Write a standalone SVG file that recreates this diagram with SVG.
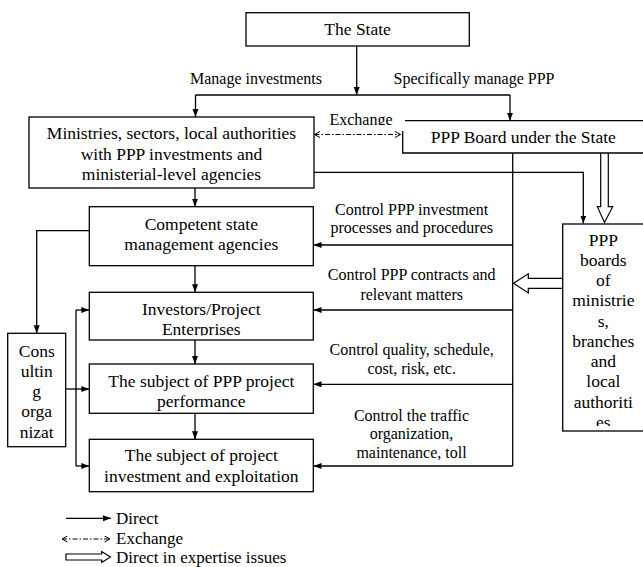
<svg xmlns="http://www.w3.org/2000/svg" width="643" height="567" viewBox="0 0 643 567" font-family="'Liberation Serif', 'DejaVu Serif', serif">
<style>
.box{fill:#fff;stroke:#000;stroke-width:1.3}
.ln{fill:none;stroke:#000;stroke-width:1.3}
.hol{fill:#fff;stroke:#000;stroke-width:1.2}
.ex{fill:none;stroke:#000;stroke-width:1.1;stroke-dasharray:5 2 1.5 2}
text{font-family:'Liberation Serif','DejaVu Serif',serif;fill:#000}
.bt{font-size:17.5px;text-anchor:middle}
.lb{font-size:16px;text-anchor:middle}
.lg{font-size:17px}
</style>
<defs>
<marker id="ah" markerUnits="userSpaceOnUse" markerWidth="9" markerHeight="7" refX="8" refY="3" orient="auto"><path d="M0,0 L8,3 L0,6 z" fill="#000"/></marker>
<marker id="ch" markerUnits="userSpaceOnUse" markerWidth="8" markerHeight="8" refX="6" refY="3.5" orient="auto"><path d="M0.5,0.5 L6,3.5 L0.5,6.5" fill="none" stroke="#000" stroke-width="1"/></marker>
<marker id="chs" markerUnits="userSpaceOnUse" markerWidth="8" markerHeight="8" refX="0.5" refY="3.5" orient="auto"><path d="M6,0.5 L0.5,3.5 L6,6.5" fill="none" stroke="#000" stroke-width="1"/></marker>
<clipPath id="cInv"><rect x="89" y="292" width="225" height="43.5"/></clipPath>
<clipPath id="cBoards"><rect x="562" y="224" width="90" height="202"/></clipPath>
<clipPath id="cEx"><rect x="320" y="100" width="80" height="25"/></clipPath>
</defs>

<g id="connectors">
<polyline class="ln" points="356.7,46 356.7,95" marker-end="url(#ah)"/>
<polyline class="ln" points="195.5,95 510,95"/>
<polyline class="ln" points="195.5,95 195.5,117" marker-end="url(#ah)"/>
<polyline class="ln" points="510,95 510,120.7" marker-end="url(#ah)"/>
<line class="ex" x1="314.5" y1="134.5" x2="400.5" y2="134.5" marker-start="url(#chs)" marker-end="url(#ch)"/>
<polyline class="ln" points="314,172.3 583.3,172.3 583.3,223.5" marker-end="url(#ah)"/>
<path class="hol" d="M600.7,153 V206.7 H597.3 L604.5,222.5 L612.7,206.7 H608.3 V153"/>
<polyline class="ln" points="512.7,153 512.7,466"/>
<polyline class="ln" points="512.7,245 313.5,245" marker-end="url(#ah)"/>
<polyline class="ln" points="512.7,310 313.5,310" marker-end="url(#ah)"/>
<polyline class="ln" points="512.7,384.3 313.5,384.3" marker-end="url(#ah)"/>
<polyline class="ln" points="512.7,466 313.5,466" marker-end="url(#ah)"/>
<path class="hol" d="M562.7,278.3 H528.3 V273.8 L513.5,283.3 L528.3,293 V288.3 H562.7"/>
<polyline class="ln" points="195,188 195,206.7" marker-end="url(#ah)"/>
<polyline class="ln" points="195,265.7 195,292.3" marker-end="url(#ah)"/>
<polyline class="ln" points="195,340 195,364" marker-end="url(#ah)"/>
<polyline class="ln" points="195,413.3 195,439.3" marker-end="url(#ah)"/>
<polyline class="ln" points="89.3,230.7 36.7,230.7 36.7,333.3" marker-end="url(#ah)"/>
<polyline class="ln" points="65.7,389 89.3,389" marker-end="url(#ah)"/>
<polyline class="ln" points="76,310 76,466"/>
<polyline class="ln" points="76,310 89.3,310" marker-end="url(#ah)"/>
<polyline class="ln" points="76,466 89.3,466" marker-end="url(#ah)"/>
</g>

<g id="labels">
<text class="lb" x="256" y="84">Manage investments</text>
<text class="lb" x="474" y="84">Specifically manage PPP</text>
<text class="lb" x="361" y="124.5" clip-path="url(#cEx)">Exchange</text>
<text class="lb" x="411.7" y="214.8">Control PPP investment</text>
<text class="lb" x="411.7" y="232.8">processes and procedures</text>
<text class="lb" x="411.7" y="279.5">Control PPP contracts and</text>
<text class="lb" x="411.7" y="299.5">relevant matters</text>
<text class="lb" x="411.7" y="354.8">Control quality, schedule,</text>
<text class="lb" x="411.7" y="373.8">cost, risk, etc.</text>
<text class="lb" x="411.5" y="420.8">Control the traffic</text>
<text class="lb" x="411.5" y="439.2">organization,</text>
<text class="lb" x="411.5" y="458.2">maintenance, toll</text>
</g>

<g id="state">
<rect class="box" x="246" y="12.7" width="223.3" height="33.3"/>
<text class="bt" x="357.6" y="35">The State</text>
</g>

<g id="ministries">
<rect class="box" x="29" y="117" width="285" height="71"/>
<text class="bt" x="171.5" y="139">Ministries, sectors, local authorities</text>
<text class="bt" x="171.5" y="160">with PPP investments and</text>
<text class="bt" x="171.5" y="180.3">ministerial-level agencies</text>
</g>

<g id="ppp-board">
<path class="ln" d="M405,120.7 H650 M402.7,131 V153 H650"/>
<text class="bt" x="523.3" y="142.7">PPP Board under the State</text>
</g>

<g id="competent">
<rect class="box" x="89.3" y="206.7" width="224" height="59"/>
<text class="bt" x="201.3" y="230">Competent state</text>
<text class="bt" x="201.3" y="250">management agencies</text>
</g>

<g id="investors">
<rect class="box" x="89.3" y="292.3" width="224" height="47.7"/>
<g clip-path="url(#cInv)">
<text class="bt" x="201.3" y="315.3">Investors/Project</text>
<text class="bt" x="201.3" y="334.5">Enterprises</text>
</g>
</g>

<g id="subject-ppp">
<rect class="box" x="89.3" y="364" width="224" height="49.3"/>
<text class="bt" x="201.3" y="387">The subject of PPP project</text>
<text class="bt" x="201.3" y="406.7">performance</text>
</g>

<g id="subject-investment">
<rect class="box" x="89.3" y="439.3" width="224" height="52.4"/>
<text class="bt" x="201.3" y="461">The subject of project</text>
<text class="bt" x="201.3" y="482">investment and exploitation</text>
</g>

<g id="consulting">
<rect class="box" x="7.7" y="333.3" width="58" height="113.4"/>
<text class="bt" x="36.7" y="356.7">Cons</text>
<text class="bt" x="36.7" y="376.9">ultin</text>
<text class="bt" x="36.7" y="397.1">g</text>
<text class="bt" x="36.7" y="417.3">orga</text>
<text class="bt" x="36.7" y="437.5">nizat</text>
</g>

<g id="ppp-boards">
<rect class="box" x="562.7" y="224" width="90" height="207"/>
<g clip-path="url(#cBoards)">
<text class="bt" x="603.3" y="245.5">PPP</text>
<text class="bt" x="603.3" y="265.8">boards</text>
<text class="bt" x="603.3" y="286">of</text>
<text class="bt" x="603.3" y="306.3">ministrie</text>
<text class="bt" x="603.3" y="326.5">s,</text>
<text class="bt" x="603.3" y="346.8">branches</text>
<text class="bt" x="603.3" y="367">and</text>
<text class="bt" x="603.3" y="387.3">local</text>
<text class="bt" x="603.3" y="407.5">authoriti</text>
<text class="bt" x="603.3" y="427.8">es</text>
</g>
</g>

<g id="legend">
<line class="ln" x1="66" y1="518.3" x2="111" y2="518.3" marker-end="url(#ah)"/>
<text class="lg" x="116" y="524">Direct</text>
<line class="ex" x1="62" y1="539" x2="110" y2="539" marker-start="url(#chs)" marker-end="url(#ch)"/>
<text class="lg" x="116" y="543.7">Exchange</text>
<path class="hol" d="M66,554 H101.7 V551.5 L110.5,557 L101.7,562.5 V560 H66 Z"/>
<text class="lg" x="116" y="563">Direct in expertise issues</text>
</g>
</svg>
